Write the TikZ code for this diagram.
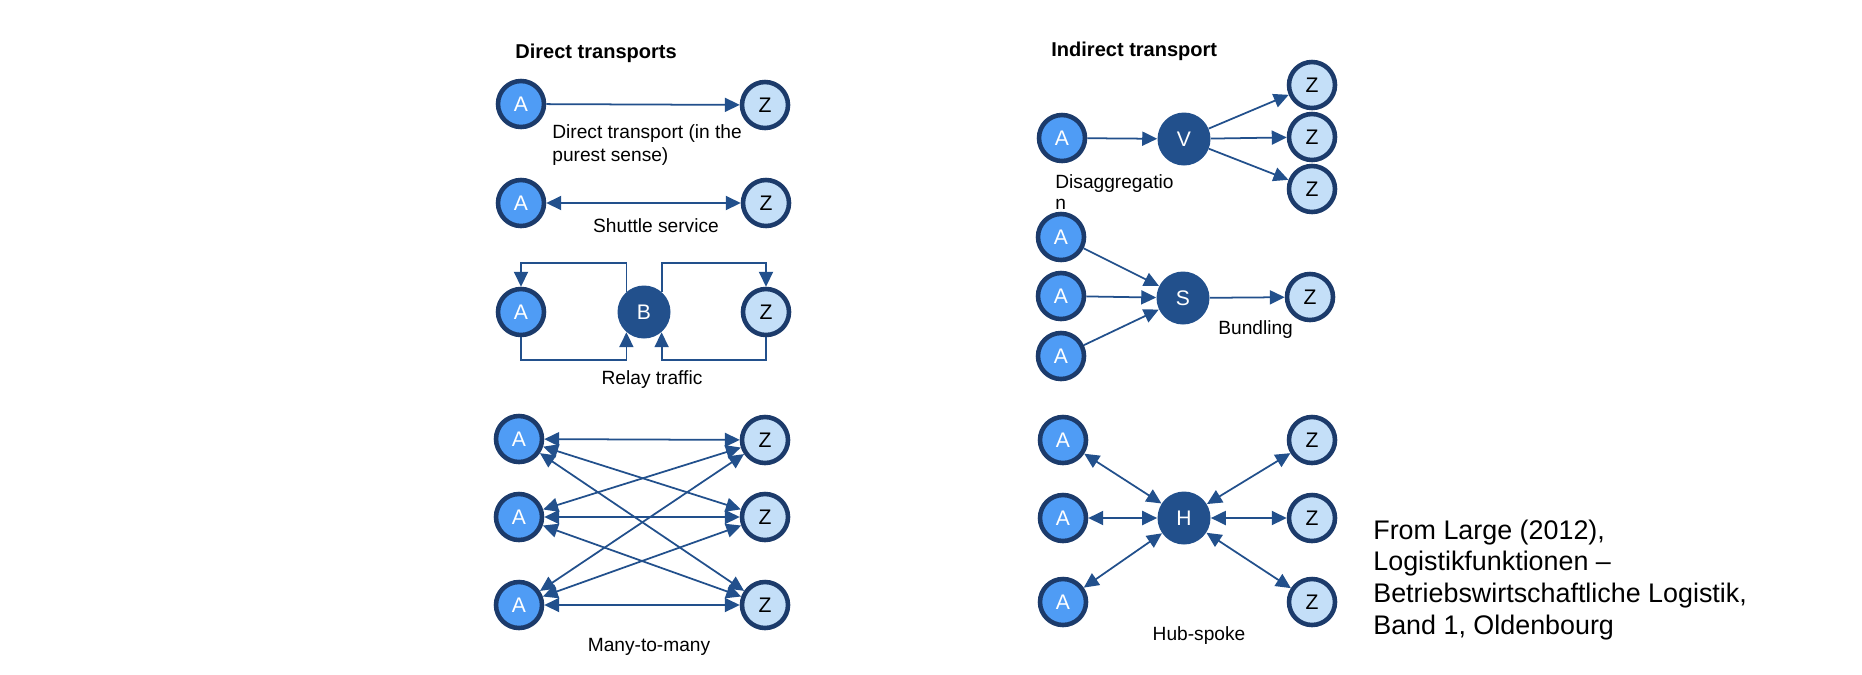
\documentclass[tikz,border=0pt]{standalone}
\usepackage{fontspec}
\setmainfont{Liberation Sans}
\usepackage{xcolor}
\usepackage{tikz}
\usetikzlibrary{arrows.meta, calc}

\definecolor{srcblue}{HTML}{4F9CF5}
\definecolor{dstblue}{HTML}{C4DFF8}
\definecolor{rimblue}{HTML}{1C3B6B}
\definecolor{hubblue}{HTML}{22508C}

\begin{document}
\begin{tikzpicture}[
  x=0.02cm, y=-0.02cm,
  src/.style={circle, draw=rimblue, line width=2.6pt, fill=srcblue, minimum size=0.92cm, inner sep=0pt, text=white, font=\fontsize{12}{13}\selectfont},
  dst/.style={src, fill=dstblue, text=black},
  hub/.style={circle, fill=hubblue, minimum size=1.06cm, inner sep=0pt, text=white, font=\fontsize{12}{13}\selectfont},
  arrow/.style={-{Triangle[length=8.5pt, width=8pt]}, line width=1pt, draw=hubblue},
  both/.style={arrow, {Triangle[length=8.5pt, width=8pt]}-{Triangle[length=8.5pt, width=8pt]}},
  caption/.style={inner sep=0pt, align=left, font=\fontsize{10.9}{12.6}\selectfont},
  heading/.style={inner sep=0pt, anchor=west, font=\fontsize{11.4}{13}\selectfont\bfseries}
]
  \useasboundingbox (0,0) rectangle (1862,674);

  \node[heading] (dtitle) at (515,53) {Direct transports};
  \node[heading] (ititle) at (1051,51) {Indirect transport};

  \node[src] (dA) at (521,104) {A};
  \node[dst] (dZ) at (765,105) {Z};
  \draw[arrow] (dA) -- (dZ);
  \node[caption, anchor=west, font=\fontsize{10.9}{13.1}\selectfont] (dcap) at (552,145.5) {Direct transport (in the\\purest sense)};

  \node[src] (sA) at (521,203) {A};
  \node[dst] (sZ) at (766,203) {Z};
  \draw[both] (sA) -- (sZ);
  \node[caption] (scap) at (656,226) {Shuttle service};

  \coordinate (rtop) at (0,263);
  \coordinate (rbot) at (0,360);
  \node[src] (rA) at (521,312) {A};
  \node[hub] (rB) at (644,312) {B};
  \node[dst] (rZ) at (766,312) {Z};
  \draw[arrow] (rB.131) |- (rtop -| rA) -- (rA);
  \draw[arrow] (rA) |- (rbot -| rB.229) -- (rB.229);
  \draw[arrow] (rB.49) |- (rtop -| rZ) -- (rZ);
  \draw[arrow] (rZ) |- (rbot -| rB.311) -- (rB.311);
  \node[caption] (rcap) at (652,380) {Relay traffic};

  \node[src] (mA1) at (519,439) {A};
  \node[src] (mA2) at (519,517) {A};
  \node[src] (mA3) at (519,605) {A};
  \node[dst] (mZ1) at (765,440) {Z};
  \node[dst] (mZ2) at (765,517) {Z};
  \node[dst] (mZ3) at (765,605) {Z};
  \foreach \i in {1,2,3}
    \foreach \j in {1,2,3}
      \draw[both] (mA\i) -- (mZ\j);
  \node[caption] (mcap) at (649,647) {Many-to-many};

  \node[src] (vA) at (1062,138) {A};
  \node[hub] (vV) at (1184,139) {V};
  \node[dst] (vZ1) at (1312,85) {Z};
  \node[dst] (vZ2) at (1312,137) {Z};
  \node[dst] (vZ3) at (1312,189) {Z};
  \draw[arrow] (vA) -- (vV);
  \foreach \i in {1,2,3}
    \draw[arrow] (vV) -- (vZ\i);
  \node[caption, anchor=west, font=\fontsize{10.9}{12}\selectfont] (vcap) at (1055,192) {Disaggregatio\\n};

  \node[src] (bA1) at (1061,237) {A};
  \node[src] (bA2) at (1061,296) {A};
  \node[src] (bA3) at (1061,356) {A};
  \node[hub] (bS) at (1183,298) {S};
  \node[dst] (bZ) at (1310,297) {Z};
  \foreach \i in {1,2,3}
    \draw[arrow] (bA\i) -- (bS);
  \draw[arrow] (bS) -- (bZ);
  \node[caption, anchor=west] (bcap) at (1218,330) {Bundling};

  \node[src] (hA1) at (1063,440) {A};
  \node[src] (hA2) at (1063,518) {A};
  \node[src] (hA3) at (1063,602) {A};
  \node[hub] (hH) at (1184,518) {H};
  \node[dst] (hZ1) at (1312,440) {Z};
  \node[dst] (hZ2) at (1312,518) {Z};
  \node[dst] (hZ3) at (1312,602) {Z};
  \foreach \i in {1,2,3} {
    \draw[both] (hA\i) -- (hH);
    \draw[both] (hH) -- (hZ\i);
  }
  \node[caption] (hcap) at (1199,636) {Hub-spoke};

  \node[caption, anchor=west, font=\fontsize{15.3}{18.2}\selectfont] (source) at (1373,580) {From Large (2012),\\Logistikfunktionen --\\Betriebswirtschaftliche Logistik,\\Band 1, Oldenbourg};
\end{tikzpicture}
\end{document}
